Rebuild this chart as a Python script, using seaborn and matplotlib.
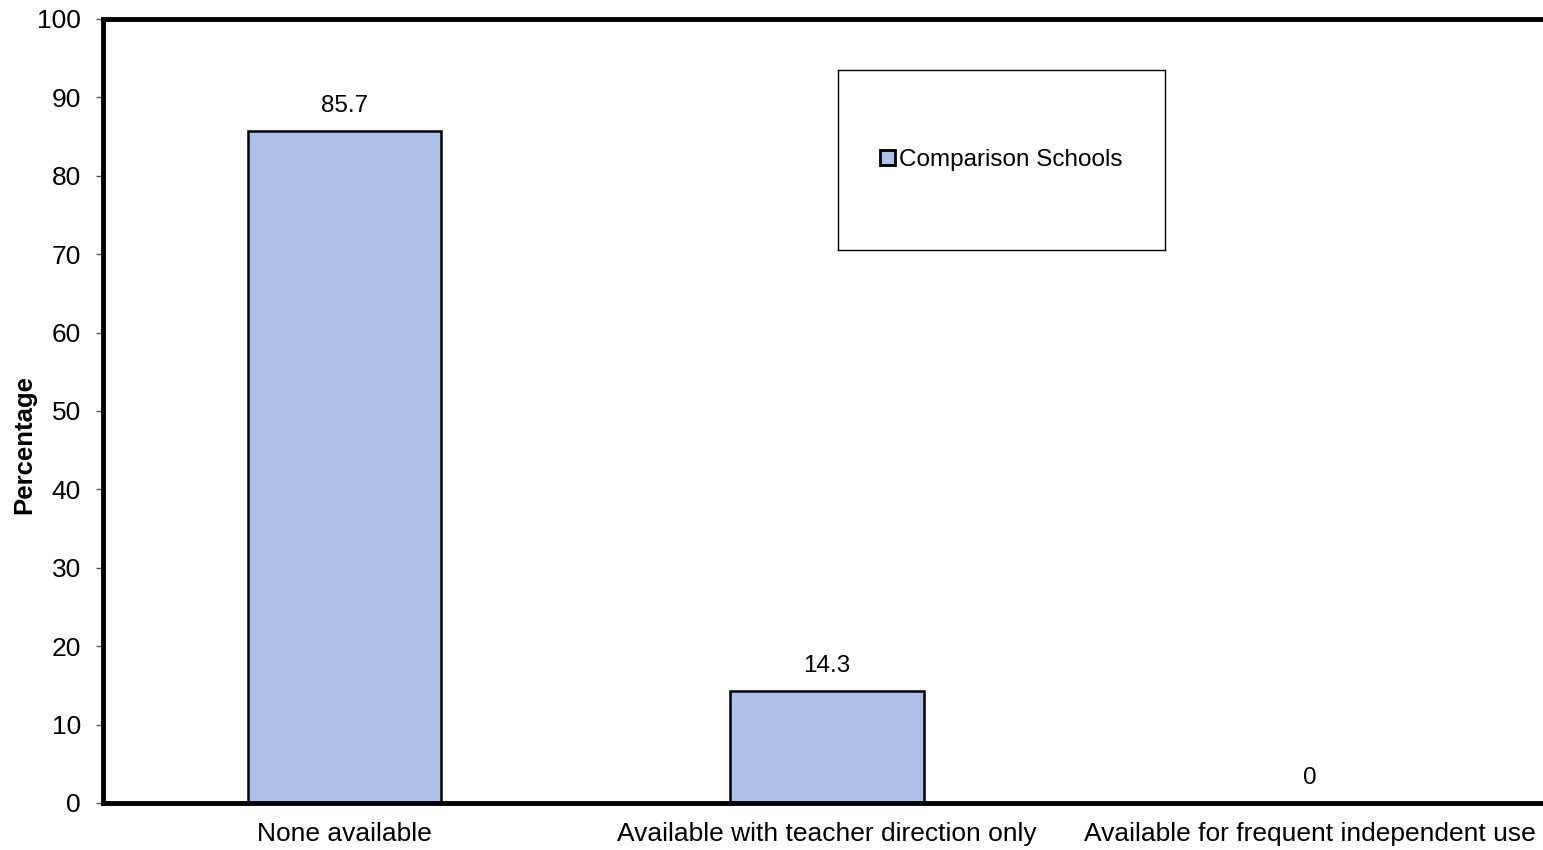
import matplotlib
matplotlib.use("Agg")
import matplotlib.pyplot as plt
import seaborn as sns
import pandas as pd
from matplotlib.patches import Patch

categories = ["None available", "Available with teacher direction only", "Available for frequent independent use"]
values = [85.7, 14.3, 0]
value_labels = ["85.7", "14.3", "0"]
series_name = "Comparison Schools"

sns.set_style("white")
plt.rcParams['font.family'] = ['Liberation Sans', 'DejaVu Sans']
plt.rcParams['text.color'] = 'black'
plt.rcParams['axes.labelcolor'] = 'black'
plt.rcParams['xtick.color'] = 'black'
plt.rcParams['ytick.color'] = 'black'

W, H = 1543, 850
fig = plt.figure(figsize=(W / 100, H / 100), dpi=100)
ax = fig.add_axes([103 / W, (H - 803) / H, (1551 - 103) / W, (803 - 19) / H])

df = pd.DataFrame({"cat": categories, "val": values})
sns.barplot(data=df, x="cat", y="val", ax=ax, color="#ADC1E8", width=0.4,
            edgecolor="black", linewidth=1.8, saturation=1)

ax.set_xlim(-0.5, 2.5)
ax.set_ylim(0, 100)
ax.set_yticks(range(0, 101, 10))
ax.set_xticks([-0.5, 0.5, 1.5, 2.5], minor=False)
ax.set_xticklabels([])
ax.set_xticks([0, 1, 2], minor=True)
ax.set_xticklabels(categories, minor=True)
ax.tick_params(axis="x", which="minor", length=0, pad=14, labelsize=19, labelcolor="black")
ax.tick_params(axis="x", which="major", length=5, width=1, direction="out", color="#555555")
ax.tick_params(axis="y", length=5, width=1, direction="out", color="#555555", labelcolor="black",
               labelsize=19, pad=11, left=True)

for side in ["left", "top", "bottom"]:
    ax.spines[side].set_linewidth(3.5)
    ax.spines[side].set_color("black")
ax.spines["right"].set_visible(False)

ax.set_xlabel("")
ax.set_ylabel("")
fig.text(24 / W, 1 - 444 / H, "Percentage", rotation=90, ha="center", va="center",
         fontsize=18.5, fontweight="bold", color="black")

for i, (v, lab) in enumerate(zip(values, value_labels)):
    ax.annotate(lab, (i, v), xytext=(0, 18), textcoords="offset points",
                ha="center", va="center", fontsize=17.5, color="black")

handle = Patch(facecolor="#ADC1E8", edgecolor="black", linewidth=2)
leg_ax = fig.add_axes([838 / W, (H - 250) / H, (1165 - 838) / W, (250 - 70) / H])
leg_ax.set_xticks([]); leg_ax.set_yticks([])
for s in leg_ax.spines.values():
    s.set_linewidth(1)
    s.set_color("black")
leg_ax.set_facecolor("white")
leg_ax.legend([handle], [series_name], loc="center", frameon=False, fontsize=17.5,
              handlelength=0.6, handleheight=0.6, handletextpad=0.2)

fig.savefig("out.png", dpi=100)
